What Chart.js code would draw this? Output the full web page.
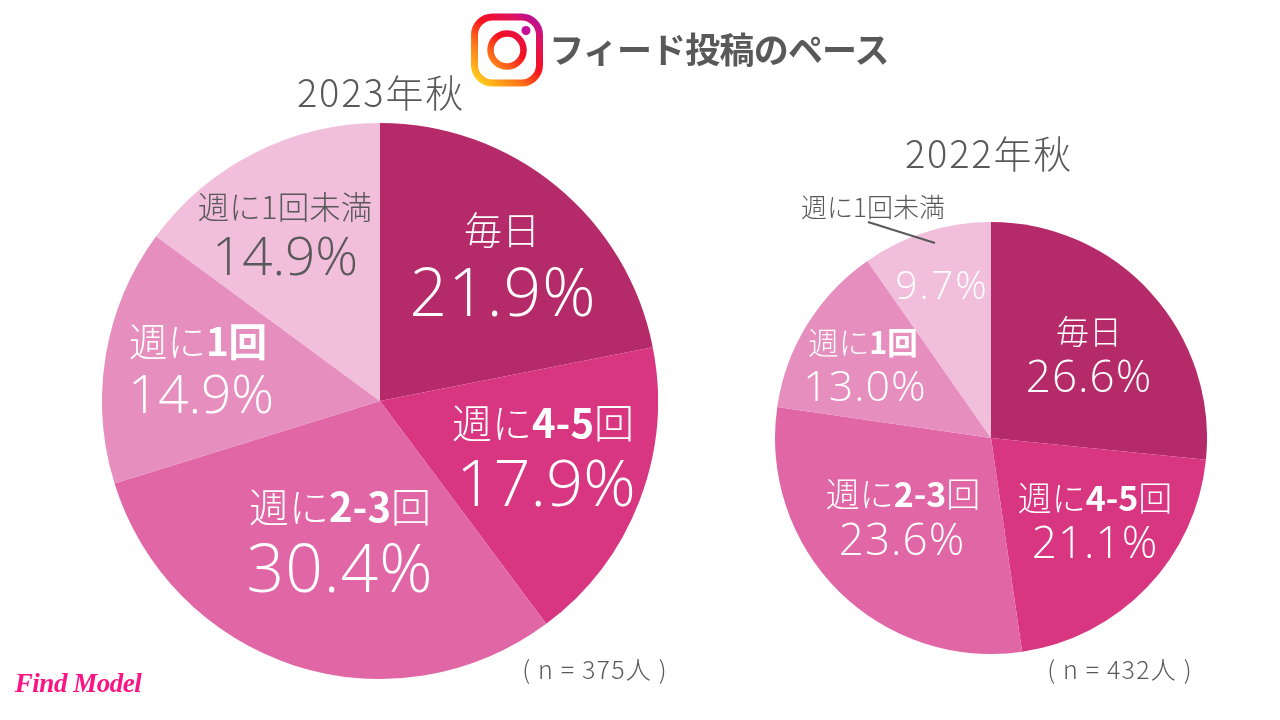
<!DOCTYPE html>
<html lang="ja">
<head>
<meta charset="utf-8">
<title>フィード投稿のペース</title>
<script src="https://cdn.jsdelivr.net/npm/chart.js@4"></script>
<style>
  html, body { margin: 0; padding: 0; background: #fff; }
  #page { position: relative; width: 1280px; height: 720px; overflow: hidden;
          font-family: "Noto Sans CJK JP", sans-serif; font-weight: 300; color: #595959; }
  #page canvas { position: absolute; }
  .txt { position: absolute; transform: translate(-50%, -50%); white-space: nowrap; line-height: 1; }
  .txt b { font-weight: 700; }
  .white { color: #fff; }
  .pct { font-family: "Open Sans", sans-serif; font-weight: 300; letter-spacing: 1px; }
  #title { font-weight: 700; font-size: 35px; letter-spacing: -0.8px; }
  #logoText { font-family: "Liberation Serif", serif; font-style: italic; font-weight: 700;
              font-size: 27px; color: #fb1483; letter-spacing: -0.5px; }
  #logo, #leader { position: absolute; left: 0; top: 0; }
</style>
</head>
<body>
<div id="page">
  <canvas id="pie2023" width="556" height="556" style="left:102px;top:123px;width:556px;height:556px"></canvas>
  <canvas id="pie2022" width="432" height="432" style="left:775px;top:221.5px;width:432px;height:432px"></canvas>

  <svg id="leader" width="1280" height="720">
    <line x1="868" y1="222" x2="935" y2="243" stroke="#595959" stroke-width="2"/>
  </svg>

  <svg id="logo" width="1280" height="720">
    <defs>
      <linearGradient id="ig" gradientUnits="userSpaceOnUse" x1="478" y1="84" x2="538" y2="16">
        <stop offset="0" stop-color="#ffd41c"/>
        <stop offset="0.3" stop-color="#ff7a1a"/>
        <stop offset="0.55" stop-color="#f5101e"/>
        <stop offset="0.8" stop-color="#e0125c"/>
        <stop offset="1" stop-color="#b10fa6"/>
      </linearGradient>
    </defs>
    <rect x="474.5" y="17" width="65" height="66" rx="18" fill="none" stroke="url(#ig)" stroke-width="7"/>
    <circle cx="507" cy="50" r="16.5" fill="none" stroke="url(#ig)" stroke-width="6.5"/>
    <circle cx="526" cy="30.5" r="4.5" fill="#c4109a"/>
  </svg>

  <div class="txt" id="title" style="left:719px;top:47px">フィード投稿のペース</div>
  <div class="txt" id="logoText" style="left:78px;top:683px">Find Model</div>
</div>

<script>
const categories = ['毎日', '週に4-5回', '週に2-3回', '週に1回', '週に1回未満'];
const values2023 = [21.9, 17.9, 30.4, 14.9, 14.9];
// 2022の「週に2-3回」は扇の大きさが約29.6%で、印字は23.6%（元図のまま）
const values2022 = [26.6, 21.1, 29.6, 13.0, 9.7];
const printed2023 = ['21.9%', '17.9%', '30.4%', '14.9%', '14.9%'];
const printed2022 = ['26.6%', '21.1%', '23.6%', '13.0%', '9.7%'];
const sliceColors = ['#b52a68', '#d93682', '#e066a5', '#e68fbf', '#f1bedb'];

function drawPie(id, values) {
    new Chart(document.getElementById(id).getContext('2d'), {
        type: 'pie',
        data: {
            labels: categories,
            datasets: [{ data: values, backgroundColor: sliceColors, borderWidth: 0 }]
        },
        options: {
            responsive: false,
            animation: false,
            layout: { padding: 0 },
            plugins: { legend: { display: false }, tooltip: { enabled: false } }
        }
    });
}

drawPie('pie2023', values2023);
drawPie('pie2022', values2022);

const page = document.getElementById('page');

function addText(html, x, y, size, cls, spacing) {
    const el = document.createElement('div');
    el.className = 'txt ' + (cls || '');
    el.style.left = x + 'px';
    el.style.top = y + 'px';
    el.style.fontSize = size + 'px';
    if (spacing !== undefined) el.style.letterSpacing = spacing + 'px';
    el.innerHTML = html;
    page.appendChild(el);
}

addText('2023年秋', 381, 91, 38, '', 1.8);
addText('2022年秋', 989, 152, 38, '', 1.8);
addText('( n = 375人 )', 595, 668, 25, '', 1.2);
addText('( n = 432人 )', 1120, 668, 25, '', 1.2);

// 2023年秋
addText('毎日', 502, 228, 38, 'white');
addText(printed2023[0], 503, 290, 66, 'white pct');
addText('週に<b>4-5</b>回', 543, 421, 40, 'white');
addText(printed2023[1], 546, 481, 65, 'white pct', 0);
addText('週に<b>2-3</b>回', 340, 505, 40, 'white');
addText(printed2023[2], 340, 566, 66, 'white pct');
addText('週に<b>1回</b>', 198, 339, 38.5, 'white');
addText(printed2023[3], 201, 392, 53, 'white pct', 0);
addText('週に1回未満', 285, 206, 31.5);
addText(printed2023[4], 285, 254, 53, 'pct', 0);

// 2022年秋
addText('毎日', 1089, 330, 33, 'white');
addText(printed2022[0], 1089, 375, 44, 'white pct');
addText('週に<b>4-5</b>回', 1095, 497, 34, 'white');
addText(printed2022[1], 1095, 541, 44, 'white pct');
addText('週に<b>2-3</b>回', 903, 493, 34, 'white');
addText(printed2022[2], 902, 538, 44, 'white pct');
addText('週に<b>1回</b>', 863, 341, 30.5, 'white');
addText(printed2022[3], 865, 384, 43, 'white pct');
addText('週に1回未満', 873, 206, 26);
addText(printed2022[4], 942, 283, 39, 'white pct', 2);
</script>
</body>
</html>
